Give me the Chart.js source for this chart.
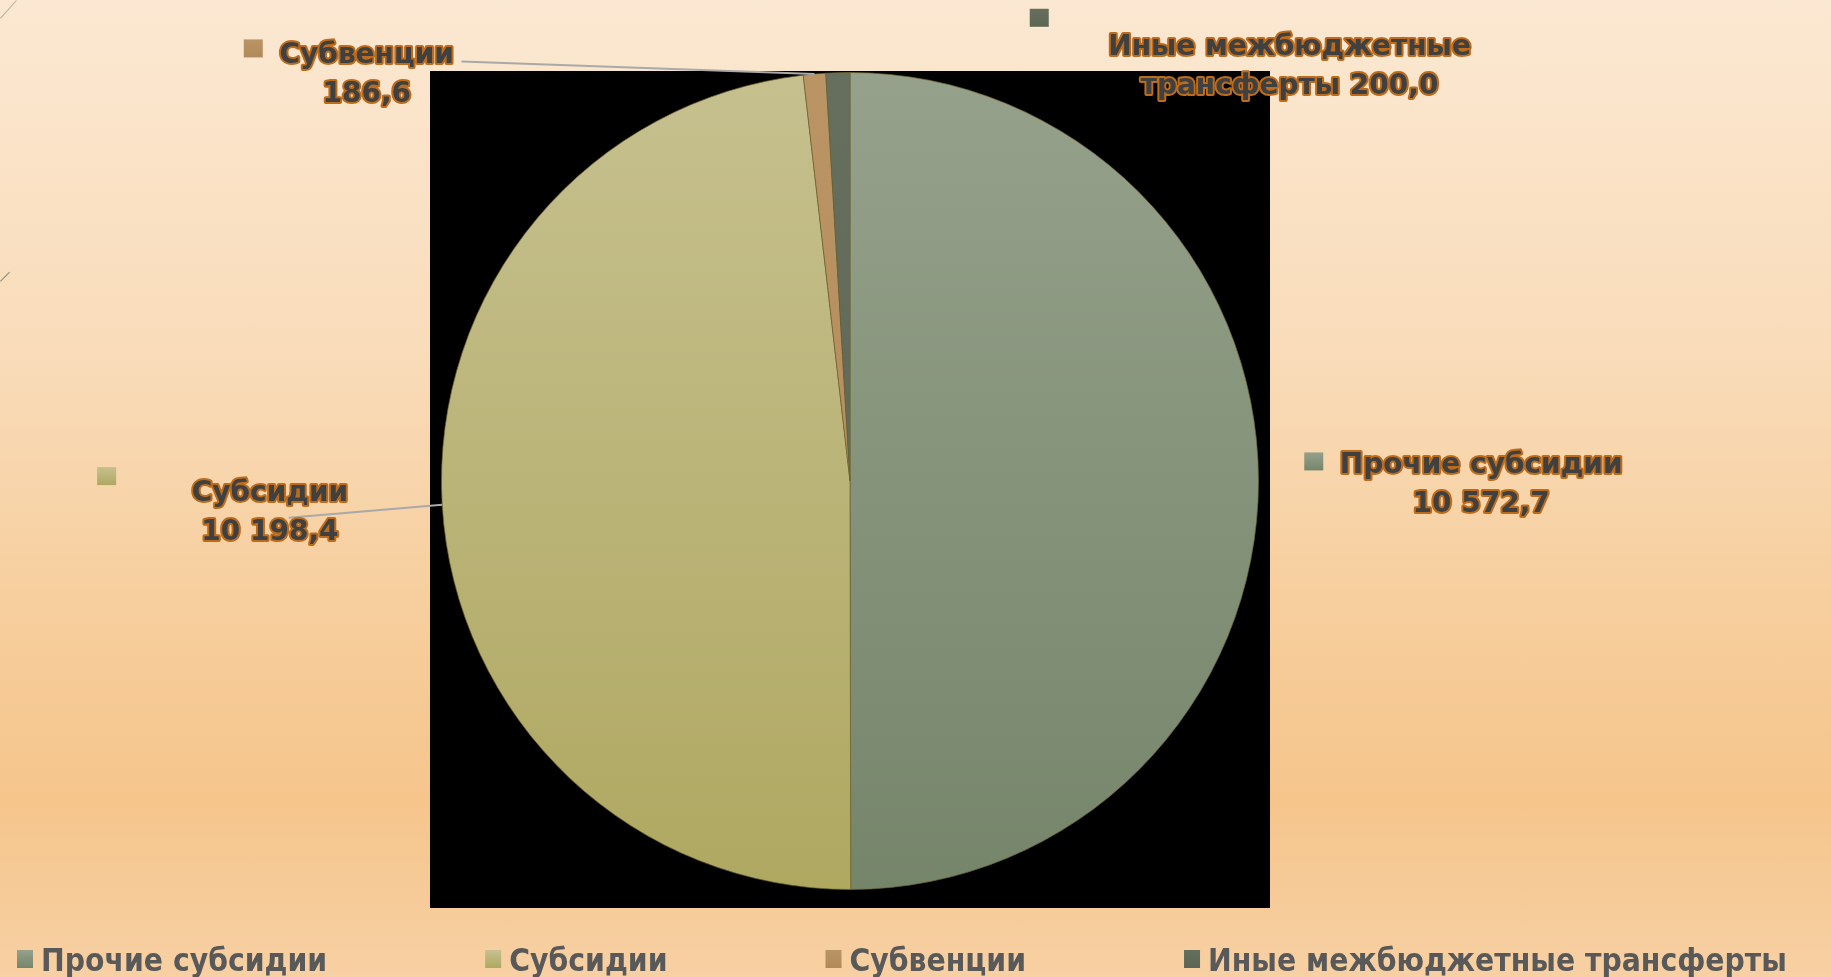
<!DOCTYPE html>
<html>
<head>
<meta charset="utf-8">
<script src="https://cdn.jsdelivr.net/npm/chart.js@4.4.1/dist/chart.umd.min.js"></script>
<style>
  html, body { margin: 0; padding: 0; }
  body {
    width: 1831px; height: 977px; overflow: hidden;
    background: linear-gradient(to bottom, #fbe8d2 0%, #f9dcba 35%, #f6ca95 70%, #f5c58c 82%, #f7d0a3 100%);
  }
  #wrap { position: relative; width: 1831px; height: 977px; }
  canvas { display: block; }
  .deco { position: absolute; height: 1px; background: #b9ae9c; transform-origin: 0 0; }
</style>
</head>
<body>
<div id="wrap">
  <div class="deco" style="left:0;top:18px;width:24px;transform:rotate(-48deg)"></div>
  <div class="deco" style="left:0;top:281px;width:13px;transform:rotate(-45deg);background:#8d8677"></div>
  <canvas id="myChart" width="1831" height="977"></canvas>
</div>
<script>
// data
const labels = ['Прочие субсидии', 'Субсидии', 'Субвенции', 'Иные межбюджетные трансферты'];
const values = [10572.7, 10198.4, 186.6, 200.0];
const valueText = ['10 572,7', '10 198,4', '186,6', '200,0'];

// colours (top, bottom of each slice gradient)
const colTop = ['#96a18b', '#c6c08f', '#bb9466', '#666e5e'];
const colBottom = ['#75856a', '#afa861', '#b08a58', '#5d6555'];

// data label layout, in radius units from the pie centre
const labelLines = [
  ['Прочие субсидии', valueText[0]],
  ['Субсидии', valueText[1]],
  ['Субвенции', valueText[2]],
  ['Иные межбюджетные', 'трансферты ' + valueText[3]]
];
const labelPos = [[1.545, -0.02], [-1.42, 0.05], [-1.183, -1.024], [1.076, -1.042]];
const keyPos = [[1.112, -0.07], [-1.843, -0.034], [-1.484, -1.081], [0.44, -1.156]];
const leader = [null, [-1.374, 0.09], [-0.951, -1.027], null];

function grad(ctx, area, i) {
  const g = ctx.createLinearGradient(0, area.top, 0, area.bottom);
  g.addColorStop(0, colTop[i]);
  g.addColorStop(1, colBottom[i]);
  return g;
}

const blackBox = {
  id: 'blackBox',
  beforeDatasetsDraw(chart) {
    const a = chart.chartArea, c = chart.ctx;
    c.save();
    c.fillStyle = '#000';
    c.fillRect(a.left - 11, a.top - 1, a.width + 22, a.height + 19);
    c.restore();
  }
};

const pieLabels = {
  id: 'pieLabels',
  afterDatasetsDraw(chart) {
    const c = chart.ctx;
    const arcs = chart.getDatasetMeta(0).data;
    const a0 = arcs[0];
    const cx = a0.x, cy = a0.y, r = a0.outerRadius;
    c.save();
    arcs.forEach((arc, i) => {
      // leader line to slice edge
      if (leader[i]) {
        const mid = (arc.startAngle + arc.endAngle) / 2;
        c.strokeStyle = '#a9a9a9';
        c.lineWidth = 2;
        c.beginPath();
        c.moveTo(cx + leader[i][0] * r, cy + leader[i][1] * r);
        c.lineTo(cx + Math.cos(mid) * r, cy + Math.sin(mid) * r);
        c.stroke();
      }
      // legend key
      const kx = cx + keyPos[i][0] * r, ky = cy + keyPos[i][1] * r;
      const kg = c.createLinearGradient(0, ky, 0, ky + 18);
      kg.addColorStop(0, colTop[i]);
      kg.addColorStop(1, colBottom[i]);
      c.fillStyle = kg;
      c.fillRect(kx, ky, 19, 18);
      // text
      c.font = 'bold 28px "DejaVu Sans"';
      c.textAlign = 'center';
      c.textBaseline = 'alphabetic';
      c.lineJoin = 'round';
      const tx = cx + labelPos[i][0] * r, ty = cy + labelPos[i][1] * r;
      labelLines[i].forEach((t, j) => {
        c.strokeStyle = '#bd6c1c';
        c.lineWidth = 4;
        c.strokeText(t, tx, ty + j * 39);
        c.fillStyle = '#404040';
        c.fillText(t, tx, ty + j * 39);
      });
    });
    c.restore();
  }
};

const bottomLegend = {
  id: 'bottomLegend',
  afterDraw(chart) {
    const c = chart.ctx;
    c.save();
    c.font = 'bold 31.5px "DejaVu Sans Condensed", "DejaVu Sans"';
    c.textBaseline = 'alphabetic';
    c.textAlign = 'left';
    let x = 17;
    const y = 971;
    labels.forEach((t, i) => {
      const kg = c.createLinearGradient(0, y - 21, 0, y - 3);
      kg.addColorStop(0, colTop[i]);
      kg.addColorStop(1, colBottom[i]);
      c.fillStyle = kg;
      c.fillRect(x, y - 21, 16, 18);
      x += 24;
      c.fillStyle = '#595959';
      c.fillText(t, x, y);
      x += c.measureText(t).width + 158;
    });
    c.restore();
  }
};

const ctx = document.getElementById('myChart').getContext('2d');

const myChart = new Chart(ctx, {
  type: 'pie',
  data: {
    labels: labels,
    datasets: [{
      data: values,
      backgroundColor: (context) => {
        const area = context.chart.chartArea;
        if (!area || !isFinite(area.top) || area.bottom <= area.top) return colTop[context.dataIndex];
        return grad(context.chart.ctx, area, context.dataIndex);
      },
      borderColor: 'rgba(110,100,50,0.7)',
      borderWidth: 1
    }]
  },
  options: {
    responsive: false,
    animation: false,
    devicePixelRatio: 1,
    layout: {
      padding: { left: 441, right: 572, top: 72, bottom: 87 }
    },
    plugins: {
      legend: { display: false },
      title: { display: false },
      tooltip: { enabled: false }
    }
  },
  plugins: [blackBox, pieLabels, bottomLegend]
});
</script>
</body>
</html>
